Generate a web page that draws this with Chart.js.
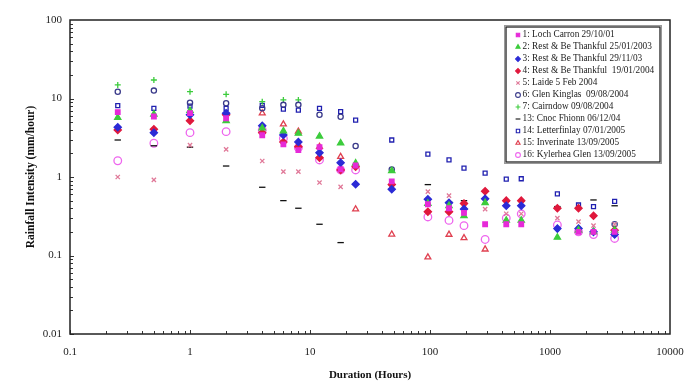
<!DOCTYPE html>
<html>
<head>
<meta charset="utf-8">
<script src="https://cdn.jsdelivr.net/npm/chart.js@4/dist/chart.umd.min.js"></script>
<style>
  html, body { margin: 0; padding: 0; background: #fff; }
  #wrap { width: 687px; height: 387px; }
</style>
</head>
<body>
<div id="wrap"><canvas id="idfChart" width="687" height="387"></canvas></div>
<script>
// durations (hours) shared by every storm
const durations = [0.25, 0.5, 1, 2, 4, 6, 8, 12, 18, 24, 48, 96, 144, 192, 288, 432, 576, 1152, 1728, 2304, 3456];

// rainfall intensity (mm/hour), null where no point is plotted
const lochCarron   = [6.7, 5.9, 6.5, 5.6, 3.4, 2.6, 2.2, 2.4, 1.25, 1.4, 0.88, 0.45, 0.4, 0.35, 0.25, 0.25, 0.25, null, 0.2, 0.2, 0.2];
const restBe2003   = [5.7, 6.3, 7.0, 5.2, 4.2, 3.85, 3.6, 3.3, 2.7, 1.5, 1.2, 0.46, 0.43, 0.32, 0.47, 0.28, 0.28, 0.17, 0.21, 0.2, 0.21];
const restBe2003b  = [4.3, 3.67, 6.2, 6.5, 4.5, 3.43, 2.8, 2.04, 1.52, 0.81, 0.7, 0.52, 0.47, 0.39, 0.53, 0.43, 0.43, 0.22, 0.22, 0.2, 0.185];
const restBe2004   = [3.97, 4.05, 5.2, 6.2, 3.67, 2.8, 2.43, 1.76, 1.23, 1.35, 0.8, 0.36, 0.36, 0.46, 0.66, 0.5, 0.5, 0.4, 0.4, 0.32, 0.21];
const laide        = [1.0, 0.92, 2.55, 2.25, 1.6, 1.17, 1.17, 0.85, 0.75, null, null, 0.65, 0.58, 0.45, 0.39, 0.34, 0.34, 0.3, 0.27, 0.24, 0.25];
const glenKinglas  = [12.2, 12.6, 8.85, 8.7, 7.5, 8.3, 8.3, 6.2, 5.85, 2.48, 1.25, null, null, null, null, null, null, null, null, null, 0.25];
const cairndow     = [14.9, 17.2, 12.2, 11.3, 9.1, 9.6, 9.6, null, null, null, null, null, null, null, null, null, null, null, null, null, null];
const cnocFhionn   = [2.96, 2.5, 2.4, 1.38, 0.74, 0.5, 0.4, 0.25, 0.146, null, null, 0.8, 0.48, 0.5, null, 0.49, 0.5, 0.42, null, 0.51, 0.43];
const letterfinlay = [8.1, 7.5, 8.0, 7.5, 8.2, 7.3, 7.1, 7.5, 6.8, 5.3, 2.96, 1.96, 1.65, 1.3, 1.12, 0.94, 0.95, 0.61, 0.44, 0.42, 0.49];
const inverinate   = [null, null, null, null, 6.5, 4.7, 3.8, 2.43, 1.81, 0.39, 0.186, 0.095, 0.185, 0.167, 0.12, null, null, null, null, null, null];
const kylerhea     = [1.61, 2.69, 3.67, 3.78, 3.97, 3.1, 2.36, 1.65, 1.23, 1.23, null, 0.31, 0.28, 0.24, 0.16, 0.3, 0.34, 0.245, 0.2, 0.185, 0.165];

const legendLabels = [
    '1: Loch Carron 29/10/01',
    '2: Rest & Be Thankful 25/01/2003',
    '3: Rest & Be Thankful 29/11/03',
    '4: Rest & Be Thankful  19/01/2004',
    '5: Laide 5 Feb 2004',
    '6: Glen Kinglas  09/08/2004',
    '7: Cairndow 09/08/2004',
    '13: Cnoc Fhionn 06/12/04',
    '14: Letterfinlay 07/01/2005',
    '15: Inverinate 13/09/2005',
    '16: Kylerhea Glen 13/09/2005'
];

const xTickLabels = [0.1, 1, 10, 100, 1000, 10000];
const yTickLabels = [0.01, 0.1, 1, 10, 100];

const SERIF = '"Liberation Serif", "DejaVu Serif", serif';

function toPoints(values) {
    const pts = [];
    values.forEach(function (v, i) {
        if (v !== null) pts.push({ x: durations[i], y: v });
    });
    return pts;
}

// marker look for each series: [values, style, fill, stroke, radius]
const looks = [
    [lochCarron,   'rect',     '#e62ad8', '#e62ad8', 3.2],
    [restBe2003,   'triangle', '#3ccc3c', '#3ccc3c', 3.6],
    [restBe2003b,  'rectRot',  '#2b2bd6', '#2b2bd6', 3.6],
    [restBe2004,   'rectRot',  '#e0183c', '#e0183c', 3.6],
    [laide,        'crossRot', 'rgba(0,0,0,0)', '#e07898', 3],
    [glenKinglas,  'circle',   'rgba(0,0,0,0)', '#3a3a8a', 2.6],
    [cairndow,     'cross',    'rgba(0,0,0,0)', '#3ccc3c', 3],
    [cnocFhionn,   'line',     'rgba(0,0,0,0)', '#111111', 3.2],
    [letterfinlay, 'rect',     'rgba(0,0,0,0)', '#2020b0', 2.8],
    [inverinate,   'triangle', 'rgba(0,0,0,0)', '#e04050', 3.4],
    [kylerhea,     'circle',   'rgba(0,0,0,0)', '#ee66ee', 3.8]
];

const datasets = looks.map(function (l, i) {
    return {
        label: legendLabels[i],
        data: toPoints(l[0]),
        pointStyle: l[1],
        backgroundColor: l[2],
        borderColor: l[3],
        pointBackgroundColor: l[2],
        pointBorderColor: l[3],
        pointRadius: l[4],
        pointBorderWidth: 1.3,
        showLine: false
    };
});

function isDecade(v) {
    const e = Math.log10(v);
    return Math.abs(e - Math.round(e)) < 1e-9;
}

const decor = {
    id: 'decor',
    afterDraw: function (chart) {
        const ctx = chart.ctx;
        const a = chart.chartArea;
        const xs = chart.scales.x, ys = chart.scales.y;
        ctx.save();

        // minor + major ticks, drawn inward
        ctx.strokeStyle = '#333';
        ctx.lineWidth = 1;
        ctx.beginPath();
        for (let e = -1; e < 4; e++) {
            for (let m = 1; m <= 9; m++) {
                const px = Math.round(xs.getPixelForValue(m * Math.pow(10, e))) + 0.5;
                const len = m === 1 ? 4 : 3;
                ctx.moveTo(px, a.bottom);
                ctx.lineTo(px, a.bottom - len);
            }
        }
        for (let e = -2; e < 2; e++) {
            for (let m = 1; m <= 9; m++) {
                const py = Math.round(ys.getPixelForValue(m * Math.pow(10, e))) + 0.5;
                const len = m === 1 ? 4 : 3;
                ctx.moveTo(a.left, py);
                ctx.lineTo(a.left + len, py);
            }
        }
        ctx.stroke();

        // frame
        ctx.strokeStyle = '#222';
        ctx.lineWidth = 1.5;
        ctx.strokeRect(a.left, a.top, a.right - a.left, a.bottom - a.top);

        // axis titles
        ctx.fillStyle = '#111';
        ctx.font = 'bold 11px ' + SERIF;
        ctx.textAlign = 'center';
        ctx.textBaseline = 'middle';
        ctx.fillText('Duration (Hours)', 370, 375);
        ctx.save();
        ctx.translate(31, 177);
        ctx.rotate(-Math.PI / 2);
        ctx.font = 'bold 11.5px ' + SERIF;
        ctx.fillText('Rainfall Intensity (mm/hour)', 0, 0);
        ctx.restore();

        // legend box
        const bx = 506, by = 27, bw = 154, bh = 135;
        ctx.fillStyle = '#fff';
        ctx.fillRect(bx, by, bw, bh);
        ctx.strokeStyle = '#999';
        ctx.lineWidth = 1;
        ctx.strokeRect(bx - 1.5, by - 1.5, bw + 3, bh + 3);
        ctx.strokeStyle = '#222';
        ctx.lineWidth = 1.3;
        ctx.strokeRect(bx, by, bw, bh);

        ctx.font = '9.3px ' + SERIF;
        ctx.textAlign = 'left';
        ctx.textBaseline = 'middle';
        chart.data.datasets.forEach(function (ds, i) {
            const y = 35 + i * 12;
            ctx.fillStyle = ds.pointBackgroundColor;
            ctx.strokeStyle = ds.pointBorderColor;
            ctx.lineWidth = 1.1;
            Chart.helpers.drawPoint(ctx, {
                pointStyle: ds.pointStyle,
                radius: Math.min(ds.pointRadius, 2.4),
                rotation: 0,
                borderWidth: 1.1
            }, 518, y);
            ctx.fillStyle = '#222';
            ctx.fillText(ds.label, 522.5, y);
        });

        ctx.restore();
    }
};

new Chart(document.getElementById('idfChart').getContext('2d'), {
    type: 'scatter',
    data: { datasets: datasets },
    options: {
        responsive: false,
        animation: false,
        devicePixelRatio: 1,
        layout: { padding: { top: 20, right: 17, left: 0, bottom: 0 } },
        plugins: {
            legend: { display: false },
            tooltip: { enabled: false }
        },
        scales: {
            x: {
                type: 'logarithmic',
                min: 0.1,
                max: 10000,
                afterFit: function (s) { s.height = 53; s.paddingLeft = 0; s.paddingRight = 0; },
                grid: { display: true, drawOnChartArea: false, drawTicks: false, color: 'rgba(0,0,0,0)' },
                border: { display: false },
                ticks: {
                    autoSkip: false,
                    maxRotation: 0,
                    padding: 12,
                    color: '#222',
                    font: { family: SERIF, size: 11 },
                    callback: function (v) {
                        return isDecade(v) && xTickLabels.some(t => Math.abs(t - v) / t < 1e-6) ? String(+v.toPrecision(6)) : '';
                    }
                }
            },
            y: {
                type: 'logarithmic',
                min: 0.01,
                max: 100,
                afterFit: function (s) { s.width = 70; s.paddingTop = 0; s.paddingBottom = 0; },
                grid: { display: true, drawOnChartArea: false, drawTicks: false, color: 'rgba(0,0,0,0)' },
                border: { display: false },
                ticks: {
                    autoSkip: false,
                    padding: 8,
                    color: '#222',
                    font: { family: SERIF, size: 11 },
                    callback: function (v) {
                        return isDecade(v) && yTickLabels.some(t => Math.abs(t - v) / t < 1e-6) ? String(+v.toPrecision(6)) : '';
                    }
                }
            }
        }
    },
    plugins: [decor]
});
</script>
</body>
</html>
